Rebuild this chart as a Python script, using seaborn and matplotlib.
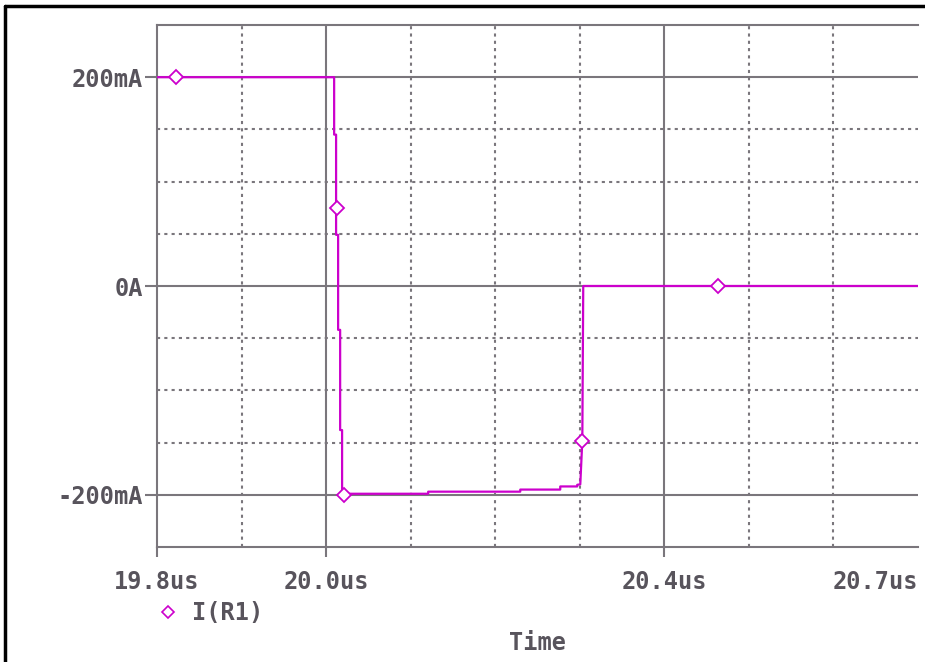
import numpy as np
import pandas as pd
import matplotlib
matplotlib.use("Agg")
import matplotlib.pyplot as plt
from matplotlib.lines import Line2D
import seaborn as sns

# PSpice-style transient plot of I(R1)
sns.set_theme(style="white")
plt.rcParams['font.family'] = ['DejaVu Sans Mono', 'DejaVu Sans']

# waveform (time in us, current in mA)
time_us = [19.80, 20.0095, 20.0095, 20.0118, 20.0118, 20.0142, 20.0142, 20.0166, 20.0166,
           20.0189, 20.0189, 20.0201, 20.1207, 20.1207, 20.2296, 20.2296, 20.2769, 20.2769,
           20.2970, 20.2970, 20.3006, 20.3030, 20.3041, 20.70]
current_ma = [200, 200, 145, 145, 49, 49, -42, -42, -138,
              -138, -199, -199, -199, -197, -197, -195, -195, -192,
              -192, -190.4, -190, -148, 0, 0]

# diamond markers along the trace
marker_t = [19.8225, 20.0128, 20.0213, 20.3030, 20.4640]
marker_i = [200, 75, -200, -148, 0]

x_ticks = [19.8, 20.0, 20.4, 20.7]
x_labels = ['19.8us', '20.0us', '20.4us', '20.7us']
y_ticks = [-200, 0, 200]
y_labels = ['-200mA', '0A', '200mA']
x_major_grid = [20.0, 20.4]
x_minor_grid = [19.9, 20.1, 20.2, 20.3, 20.5, 20.6]
y_major_grid = [-200, 0, 200]
y_minor_grid = [-150, -100, -50, 50, 100, 150]

trace_color = '#cc00cc'
grid_color = '#7a767c'
text_color = '#58545c'

df = pd.DataFrame({'t': time_us, 'i': current_ma})

fig = plt.figure(figsize=(9.25, 6.62), dpi=100)
ax = fig.add_axes([157 / 925, 1 - 547 / 662, (918 - 157) / 925, (547 - 25) / 662])

for x in x_major_grid:
    ax.axvline(x, color=grid_color, lw=1.5, zorder=1)
for x in x_minor_grid:
    ax.axvline(x, color=grid_color, lw=1.5, ls=(0, (1.5, 2)), zorder=1)
for y in y_major_grid:
    ax.axhline(y, color=grid_color, lw=1.5, zorder=1)
for y in y_minor_grid:
    ax.axhline(y, color=grid_color, lw=1.5, ls=(0, (1.5, 2)), zorder=1)

sns.lineplot(data=df, x='t', y='i', sort=False, estimator=None, color=trace_color,
             lw=1.6, ax=ax, zorder=3)
ax.plot(marker_t, marker_i, ls='none', marker='D', ms=7.5, mfc='white',
        mec=trace_color, mew=1.3, zorder=4)

ax.set_xlim(19.8, 20.7)
ax.set_ylim(-250, 250)
ax.set_xticks(x_ticks)
ax.set_xticklabels(x_labels)
ax.set_yticks(y_ticks)
ax.set_yticklabels(y_labels)
ax.set_xlabel('')
ax.set_ylabel('')
ax.tick_params(axis='x', direction='out', length=7.5, width=1.5, color=grid_color,
               pad=9, labelsize=17, labelcolor=text_color)
ax.tick_params(axis='y', direction='out', length=8.5, width=1.5, color=grid_color,
               pad=1.5, labelsize=17, labelcolor=text_color)
ax.tick_params(bottom=True, left=True)
for lab in ax.get_xticklabels() + ax.get_yticklabels():
    lab.set_fontweight('bold')
# last label sits flush against the right edge of the plot
ax.get_xticklabels()[-1].set_horizontalalignment('right')
ax.get_xticklines()[-2].set_visible(False)

for side in ['left', 'top', 'bottom']:
    ax.spines[side].set_color(grid_color)
    ax.spines[side].set_linewidth(1.5)
ax.spines['right'].set_visible(False)

# legend and axis title
handle = Line2D([], [], ls='none', marker='D', ms=6.5, mfc='white', mec=trace_color, mew=1.2)
ax.legend([handle], ['I(R1)'], loc='center left', bbox_to_anchor=(135 / 925, 1 - 613 / 662),
          bbox_transform=fig.transFigure, frameon=False, handlelength=1.0, handletextpad=0.5,
          prop={'size': 17, 'weight': 'bold'}, labelcolor=text_color)
fig.text(537 / 925, 1 - 643 / 662, 'Time', ha='center', va='center', fontsize=17,
         fontweight='bold', color=text_color)

# outer window frame (left and top edges)
fig.add_artist(Line2D([5 / 925, 5 / 925], [0, 1 - 6 / 662], color='black', lw=2.5,
                      transform=fig.transFigure))
fig.add_artist(Line2D([5 / 925, 1], [1 - 6 / 662, 1 - 6 / 662], color='black', lw=2.5,
                      transform=fig.transFigure))

fig.savefig('out.png', dpi=100)
plt.close(fig)
